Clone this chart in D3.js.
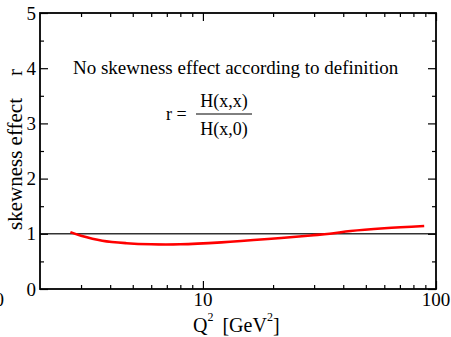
<!DOCTYPE html>
<html>
<head>
<meta charset="utf-8">
<script src="https://cdn.jsdelivr.net/npm/d3@7"></script>
<style>
  body { margin: 0; background: #fff; }
  text { font-family: "Liberation Serif", "Times New Roman", serif; fill: #000; }
</style>
</head>
<body>
<svg></svg>
<script>
// Q^2 in GeV^2 and the skewness ratio r
let q2 = [2.7, 3.0, 3.7, 4.7, 6.0, 8.0, 12, 19, 29, 35, 43, 60, 89];
let ratio = [1.03, 0.965, 0.875, 0.83, 0.81, 0.81, 0.845, 0.905, 0.97, 1.0, 1.05, 1.10, 1.14];

let xMajor = [10, 100];
let xMinor = [3, 4, 5, 6, 7, 8, 9, 20, 30, 40, 50, 60, 70, 80, 90];
let yMajor = [0, 1, 2, 3, 4, 5];
let yMinor = [0.5, 1.5, 2.5, 3.5, 4.5];

let width = 451;
let height = 337;
let padLeft = 40, padRight = 436, padTop = 13, padBottom = 289;

let svg = d3.select('svg')
            .attr('width', width)
            .attr('height', height);

let xScale = d3.scaleLog()
               .domain([2, 100])
               .range([padLeft, padRight]);

let yScale = d3.scaleLinear()
               .domain([0, 5])
               .range([padBottom, padTop]);

// reference line r = 1
svg.append('line')
   .attr('x1', padLeft).attr('x2', padRight)
   .attr('y1', yScale(1)).attr('y2', yScale(1))
   .attr('stroke', '#333')
   .attr('stroke-width', 1.5);

// curve
let line = d3.line()
             .x((d, i) => xScale(q2[i]))
             .y((d) => yScale(d))
             .curve(d3.curveCatmullRom);

svg.append('path')
   .datum(ratio)
   .attr('d', line)
   .attr('fill', 'none')
   .attr('stroke', '#ff0000')
   .attr('stroke-width', 2.6);

// axes, ticks pointing inward
const tickAxis = (axis, vals, size, transform) => {
    svg.append('g')
       .attr('transform', transform)
       .call(axis.tickValues(vals).tickSize(size).tickFormat(''))
       .call(g => g.select('.domain').remove())
       .call(g => g.selectAll('line').attr('stroke', '#000').attr('stroke-width', 1.2));
};

tickAxis(d3.axisTop(xScale), xMajor, 8, 'translate(0,' + padBottom + ')');
tickAxis(d3.axisTop(xScale), xMinor, 4, 'translate(0,' + padBottom + ')');
tickAxis(d3.axisBottom(xScale), xMajor, 8, 'translate(0,' + padTop + ')');
tickAxis(d3.axisBottom(xScale), xMinor, 4, 'translate(0,' + padTop + ')');
tickAxis(d3.axisRight(yScale), yMajor, 8, 'translate(' + padLeft + ',0)');
tickAxis(d3.axisRight(yScale), yMinor, 4, 'translate(' + padLeft + ',0)');
tickAxis(d3.axisLeft(yScale), yMajor, 8, 'translate(' + padRight + ',0)');
tickAxis(d3.axisLeft(yScale), yMinor, 4, 'translate(' + padRight + ',0)');

// frame
svg.append('rect')
   .attr('x', padLeft).attr('y', padTop)
   .attr('width', padRight - padLeft).attr('height', padBottom - padTop)
   .attr('fill', 'none')
   .attr('stroke', '#000')
   .attr('stroke-width', 1.8);

// tick labels
svg.selectAll('.xlab')
   .data(xMajor)
   .enter()
   .append('text')
   .attr('x', (d) => xScale(d))
   .attr('y', 306)
   .attr('text-anchor', 'middle')
   .attr('font-size', 19)
   .text((d) => d);

// label of a tick lying just outside the picture, only its edge shows
svg.append('text')
   .attr('x', 4)
   .attr('y', 306)
   .attr('text-anchor', 'end')
   .attr('font-size', 19)
   .text('10');

svg.selectAll('.ylab')
   .data(yMajor)
   .enter()
   .append('text')
   .attr('x', 36)
   .attr('y', (d) => yScale(d) + 6.5)
   .attr('text-anchor', 'end')
   .attr('font-size', 19)
   .text((d) => d);

// axis titles
let xTitle = svg.append('text')
                .attr('x', 193)
                .attr('y', 332)
                .attr('font-size', 20);
xTitle.append('tspan').text('Q');
xTitle.append('tspan').attr('font-size', 12).attr('dy', -11).text('2');
xTitle.append('tspan').attr('dy', 11).attr('dx', 9).text('[GeV');
xTitle.append('tspan').attr('font-size', 12).attr('dy', -11).text('2');
xTitle.append('tspan').attr('dy', 11).text(']');

svg.append('text')
   .attr('transform', 'translate(22,230) rotate(-90)')
   .attr('font-size', 21)
   .text('skewness effect');

svg.append('text')
   .attr('transform', 'translate(22,76) rotate(-90)')
   .attr('font-size', 21)
   .text('r');

// annotation
svg.append('text')
   .attr('x', 73)
   .attr('y', 74)
   .attr('font-size', 19)
   .text('No skewness effect according to definition');

svg.append('text')
   .attr('x', 166)
   .attr('y', 120)
   .attr('font-size', 18)
   .text('r =');

svg.append('text')
   .attr('x', 224)
   .attr('y', 107)
   .attr('text-anchor', 'middle')
   .attr('font-size', 18)
   .text('H(x,x)');

svg.append('line')
   .attr('x1', 196).attr('x2', 252)
   .attr('y1', 114).attr('y2', 114)
   .attr('stroke', '#000')
   .attr('stroke-width', 1);

svg.append('text')
   .attr('x', 224)
   .attr('y', 135)
   .attr('text-anchor', 'middle')
   .attr('font-size', 18)
   .text('H(x,0)');
</script>
</body>
</html>
